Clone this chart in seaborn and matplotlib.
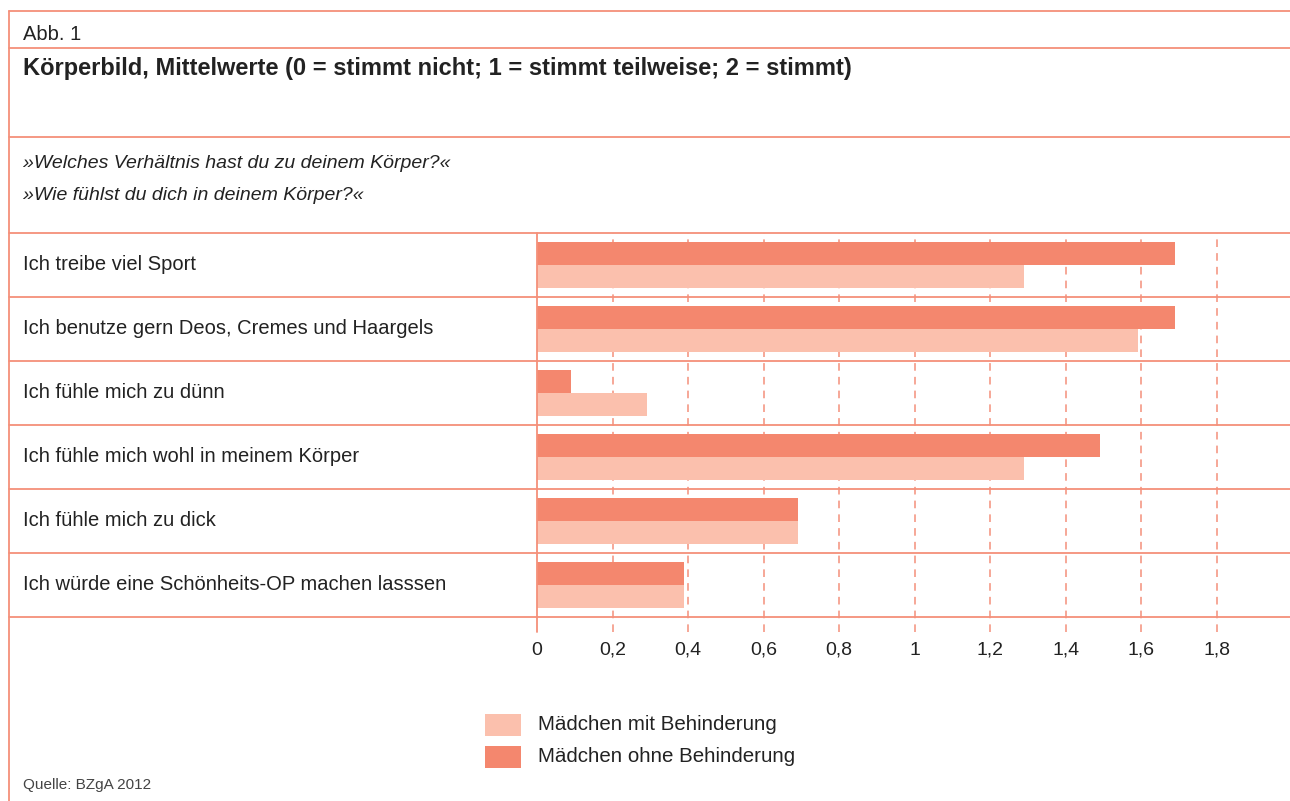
import matplotlib
matplotlib.use("Agg")
import matplotlib.pyplot as plt
import seaborn as sns
import pandas as pd
from matplotlib.transforms import blended_transform_factory
from matplotlib.patches import Rectangle
from matplotlib.lines import Line2D

categories = [
    "Ich treibe viel Sport",
    "Ich benutze gern Deos, Cremes und Haargels",
    "Ich fühle mich zu dünn",
    "Ich fühle mich wohl in meinem Körper",
    "Ich fühle mich zu dick",
    "Ich würde eine Schönheits-OP machen lasssen",
]
ohne_values = [1.69, 1.69, 0.09, 1.49, 0.69, 0.39]
mit_values = [1.29, 1.59, 0.29, 1.29, 0.69, 0.39]
series_ohne = "Mädchen ohne Behinderung"
series_mit = "Mädchen mit Behinderung"
xticks = [0, 0.2, 0.4, 0.6, 0.8, 1.0, 1.2, 1.4, 1.6, 1.8]
xticklabels = ["0", "0,2", "0,4", "0,6", "0,8", "1", "1,2", "1,4", "1,6", "1,8"]

df = pd.DataFrame({
    "cat": categories * 2,
    "val": ohne_values + mit_values,
    "series": [series_ohne] * len(categories) + [series_mit] * len(categories),
})

C_OHNE = "#F4876E"
C_MIT = "#FBC0AD"
LINE = "#F4907A"
TXT = "#222222"

sns.set_theme(style="white")
plt.rcParams["font.family"] = ["Liberation Sans", "DejaVu Sans"]

W, H = 1290, 801
fig = plt.figure(figsize=(12.9, 8.01), dpi=100)

def fx(px):
    return px / W

def fy(py):
    return 1 - py / H

# axes: x from 537 to 1290, y from 233 to 632
ax = fig.add_axes([fx(537), fy(632), fx(1290) - fx(537), fy(233) - fy(632)])
sns.barplot(data=df, y="cat", x="val", hue="series", order=categories,
            hue_order=[series_ohne, series_mit],
            palette=[C_OHNE, C_MIT], width=0.72, orient="h",
            saturation=1, legend=False, ax=ax, zorder=3)
for p in ax.patches:
    p.set_edgecolor("none")

x_right = (1290 - 537) / 377.8
ax.set_xlim(0, x_right)
ax.set_ylim(5.5 + 15 / 64, -0.5)
for s in ax.spines.values():
    s.set_visible(False)
ax.set_xlabel("")
ax.set_ylabel("")
ax.set_yticks([])
ax.set_xticks(xticks)
ax.set_xticklabels(xticklabels, fontsize=14, color=TXT)
ax.tick_params(axis="x", length=0, pad=7)

for t in xticks[1:]:
    ax.axvline(t, color=LINE, lw=1.1, ls=(0, (5, 4)), zorder=1)
ax.axvline(0, color=LINE, lw=1.3, zorder=4, clip_on=False)

# row separators across full width
xmin_ax = (9 - 537) / (1290 - 537)
for yb in [-0.5 + i for i in range(7)]:
    ax.axhline(yb, xmin=xmin_ax, xmax=1, color=LINE, lw=1.3, clip_on=False, zorder=2)

# category labels
trans = blended_transform_factory(fig.transFigure, ax.transData)
for i, c in enumerate(categories):
    ax.text(fx(23), i, c, transform=trans, ha="left", va="center",
            fontsize=14.5, color=TXT)

# frame lines
for py in [11, 48, 137]:
    fig.add_artist(Line2D([fx(9), 1], [fy(py), fy(py)], color=LINE, lw=1.3))
fig.add_artist(Line2D([fx(9), fx(9)], [fy(11), 0], color=LINE, lw=1.3))

fig.text(fx(23), fy(34), "Abb. 1", fontsize=14.5, color=TXT, va="center", ha="left")
fig.text(fx(23), fy(69), "Körperbild, Mittelwerte (0 = stimmt nicht; 1 = stimmt teilweise; 2 = stimmt)",
         fontsize=17, fontweight="bold", color=TXT, va="center", ha="left")
fig.text(fx(23), fy(163), "»Welches Verhältnis hast du zu deinem Körper?«",
         fontsize=14, style="italic", color=TXT, va="center", ha="left")
fig.text(fx(23), fy(196), "»Wie fühlst du dich in deinem Körper?«",
         fontsize=14, style="italic", color=TXT, va="center", ha="left")

# legend
for py, col, lab in [(714, C_MIT, series_mit), (746, C_OHNE, series_ohne)]:
    fig.add_artist(Rectangle((fx(485), fy(py + 22)), fx(521) - fx(485), fy(py) - fy(py + 22),
                             facecolor=col, edgecolor="none", transform=fig.transFigure))
    fig.text(fx(538), fy(py + 11), lab, fontsize=14.8, color=TXT, va="center", ha="left")

fig.text(fx(23), fy(785), "Quelle: BZgA 2012", fontsize=11, color="#444444",
         va="center", ha="left")

fig.savefig("out.png", dpi=100, facecolor="white")
